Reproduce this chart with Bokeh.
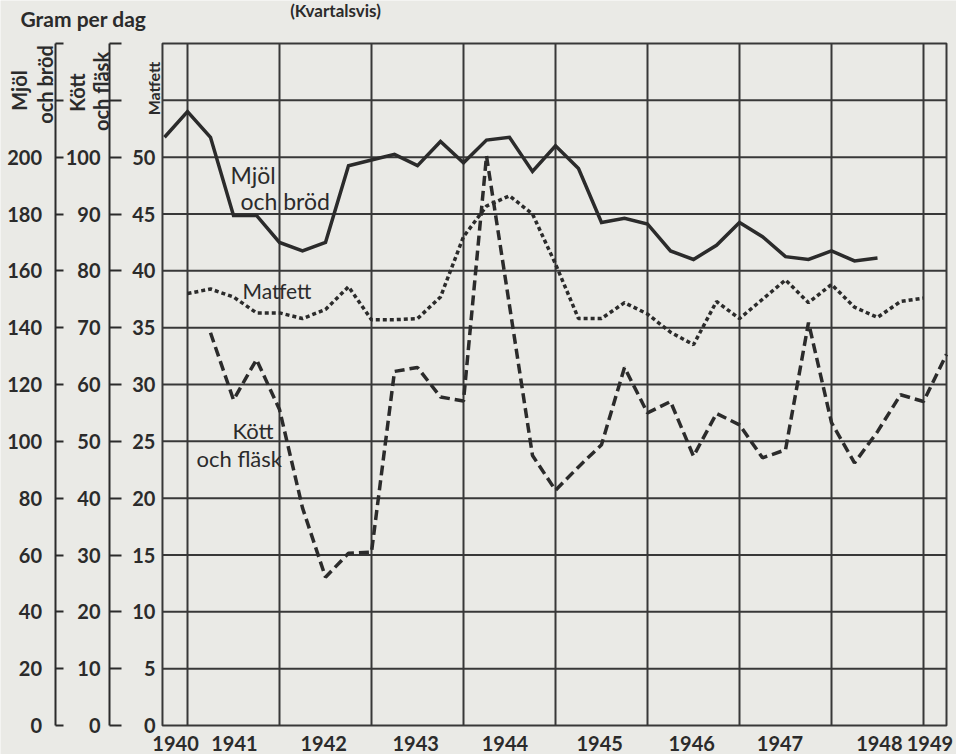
import math
from bokeh.plotting import figure
from bokeh.models import Range1d, LinearAxis, FixedTicker, ColumnDataSource
from bokeh.core.properties import value
from bokeh.embed import file_html
from bokeh.resources import INLINE

nan = float("nan")

# ---------------- data (gram per dag, kvartalsvis) ----------------
quarters = [1940.75,
            1941.0, 1941.25, 1941.5, 1941.75,
            1942.0, 1942.25, 1942.5, 1942.75,
            1943.0, 1943.25, 1943.5, 1943.75,
            1944.0, 1944.25, 1944.5, 1944.75,
            1945.0, 1945.25, 1945.5, 1945.75,
            1946.0, 1946.25, 1946.5, 1946.75,
            1947.0, 1947.25, 1947.5, 1947.75,
            1948.0, 1948.25, 1948.5, 1948.75,
            1949.0, 1949.25]

mjol_och_brod = [207,
                 216, 207, 179.5, 179.5,
                 170, 167, 170, 197,
                 199, 201, 197, 205.5,
                 198, 206, 207, 195,
                 204, 196, 177, 178.5,
                 176.5, 167, 164, 169,
                 177, 172, 165, 164,
                 167, 163.5, 164.5, nan,
                 nan, nan]

matfett = [nan,
           38.0, 38.4, 37.7, 36.3,
           36.3, 35.8, 36.6, 38.6,
           35.7, 35.7, 35.8, 37.7,
           43.0, 45.7, 46.6, 45.0,
           40.6, 35.8, 35.8, 37.2,
           36.2, 34.6, 33.5, 37.3,
           35.8, 37.5, 39.2, 37.2,
           38.8, 36.8, 35.9, 37.3,
           37.6, nan]

kott_och_flask = [nan,
                  nan, 69.1, 57.3, 64.4,
                  55.6, 38.3, 26.1, 30.3,
                  30.5, 62.3, 63.0, 57.8,
                  57.1, 100.2, 73.9, 47.5,
                  41.4, 45.5, 49.4, 63.0,
                  55.0, 57.0, 47.4, 54.9,
                  52.9, 47.1, 48.5, 70.9,
                  53.3, 46.2, 51.7, 58.2,
                  57.0, 65.3]

year_grid = [1941, 1942, 1943, 1944, 1945, 1946, 1947, 1948, 1949]
year_labels = ["1940", "1941", "1942", "1943", "1944", "1945", "1946", "1947", "1948", "1949"]
year_label_pos = [1940.87, 1941.51, 1942.48, 1943.48, 1944.45, 1945.48, 1946.48, 1947.44, 1948.52, 1949.07]

matfett_ticks = [0, 5, 10, 15, 20, 25, 30, 35, 40, 45, 50]
matfett_grid = [5, 10, 15, 20, 25, 30, 35, 40, 45, 50, 55]
kott_ticks = [0, 10, 20, 30, 40, 50, 60, 70, 80, 90, 100, 110, 120]
mjol_ticks = [0, 20, 40, 60, 80, 100, 120, 140, 160, 180, 200, 220, 240]

# ---------------- styling / geometry ----------------
INK = "#2b2b2b"
GRID = "#383838"
PAPER = "#eaeae6"
FONT = "Lato"

X_START, X_END = 1940.728, 1949.25     # chart box (Matfett scale 0..60)
Y_TOP = 60.0
PX_PER_YEAR = 92.0
PX_PER_UNIT = 682.0 / 60.0

# page-pixel -> data helpers for placing decorations
def dx(px):
    return 1941.0 + (px - 187) / PX_PER_YEAR

def dy(py):
    return (725 - py) / PX_PER_UNIT

W, H = 956, 754
xr = Range1d(dx(0), dx(W))
yr = Range1d(dy(H), dy(0))

p = figure(width=W, height=H, x_range=xr, y_range=yr,
           x_axis_location=None, y_axis_location=None,
           output_backend="svg", toolbar_location=None,
           min_border_left=0, min_border_right=0, min_border_top=0, min_border_bottom=0)
p.extra_y_ranges = {"mjol": Range1d(yr.start * 4, yr.end * 4),
                    "kott": Range1d(yr.start * 2, yr.end * 2)}
p.background_fill_color = PAPER
p.border_fill_color = PAPER
p.outline_line_color = None
p.grid.visible = False

# ---------------- chart box and grid ----------------
p.segment(x0=year_grid, y0=[0] * len(year_grid), x1=year_grid, y1=[Y_TOP] * len(year_grid),
          line_color=GRID, line_width=2)
p.segment(x0=[X_START] * len(matfett_grid), y0=matfett_grid,
          x1=[X_END] * len(matfett_grid), y1=matfett_grid,
          line_color=GRID, line_width=2)
p.quad(left=[X_START], right=[X_END], bottom=[0], top=[Y_TOP],
       fill_color=None, line_color=GRID, line_width=2)

# ---------------- the three value axes ----------------
def style_axis(ax, tick_len, standoff, line=True):
    ax.axis_line_color = INK if line else None
    ax.axis_line_width = 2
    ax.major_tick_line_color = INK if line else None
    ax.major_tick_line_width = 2
    ax.major_tick_in = tick_len
    ax.major_tick_out = 0
    ax.minor_tick_line_color = None
    ax.major_label_standoff = standoff
    ax.major_label_text_font = FONT
    ax.major_label_text_font_size = "20px"
    ax.major_label_text_font_style = "bold"
    ax.major_label_text_color = INK

fett_axis = LinearAxis(fixed_location=X_START, bounds=(0, Y_TOP),
                       ticker=FixedTicker(ticks=matfett_ticks))
style_axis(fett_axis, 0, 7, line=False)

kott_axis = LinearAxis(y_range_name="kott", fixed_location=dx(109), bounds=(0, 120),
                       ticker=FixedTicker(ticks=kott_ticks),
                       major_label_overrides={110: "", 120: ""})
style_axis(kott_axis, 12, 9)

mjol_axis = LinearAxis(y_range_name="mjol", fixed_location=dx(54.5), bounds=(0, 240),
                       ticker=FixedTicker(ticks=mjol_ticks),
                       major_label_overrides={220: "", 240: ""})
style_axis(mjol_axis, 8, 13)

for ax in (fett_axis, kott_axis, mjol_axis):
    p.add_layout(ax, "left")

# ---------------- series ----------------
src = ColumnDataSource(dict(q=quarters, mjol=mjol_och_brod, fett=matfett, kott=kott_och_flask))
p.line("q", "mjol", source=src, y_range_name="mjol", line_color=INK, line_width=3.5,
       line_join="miter")
p.line("q", "kott", source=src, y_range_name="kott", line_color=INK, line_width=3.5,
       line_dash="10 5")
p.line("q", "fett", source=src, line_color=INK, line_width=3.5, line_dash="4 3")

# ---------------- texts ----------------
def txt(texts, xs, ys, size, bold=False, align="left", baseline="middle", angle=0.0):
    p.text(x=xs, y=ys, text=texts, text_font=value(FONT),
           text_font_size=value(f"{size}px"),
           text_font_style="bold" if bold else "normal",
           text_color=INK, text_align=align, text_baseline=baseline, angle=angle)

# year labels
txt(year_labels, year_label_pos, [dy(743)] * len(year_labels), 20, bold=True, align="center")

txt(["Gram per dag"], [dx(20)], [dy(18)], 21, bold=True)
txt(["(Kvartalsvis)"], [dx(335)], [dy(10)], 17, bold=True, align="center")

# rotated headings of the three scales
R = math.pi / 2
txt(["Mjöl"], [dx(18)], [dy(90)], 20, bold=True, align="center", angle=R)
txt(["och bröd"], [dx(44.5)], [dy(84)], 20, bold=True, align="center", angle=R)
txt(["Kött"], [dx(76)], [dy(92)], 20, bold=True, align="center", angle=R)
txt(["och fläsk"], [dx(100)], [dy(91)], 20, bold=True, align="center", angle=R)
txt(["Matfett"], [dx(152.5)], [dy(88)], 16, bold=True, align="center", angle=R)

# series names inside the chart
txt(["Mjöl"], [dx(230)], [dy(174)], 23)
txt(["och bröd"], [dx(240)], [dy(200)], 23)
txt(["Matfett"], [dx(242)], [dy(290)], 21)
txt(["Kött"], [dx(232)], [dy(430)], 22)
txt(["och fläsk"], [dx(196)], [dy(458)], 22)

open("out.html", "w").write(file_html(p, INLINE))
